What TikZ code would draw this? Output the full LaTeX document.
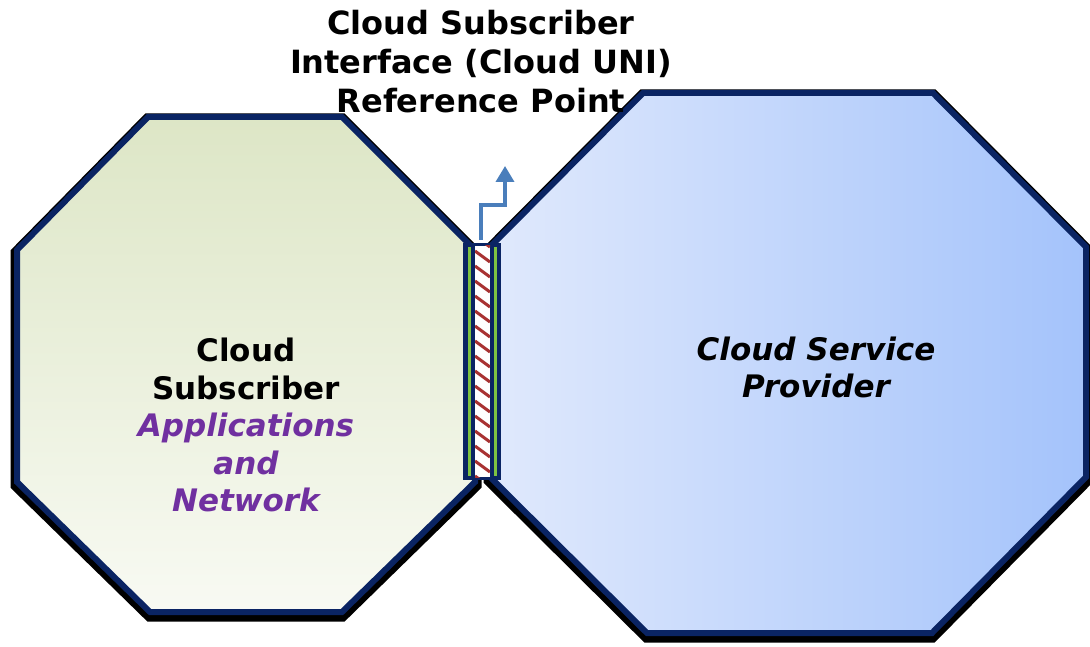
\documentclass[tikz,border=0pt]{standalone}
\usepackage{fontspec}
\setmainfont{DejaVu Sans}
\usetikzlibrary{arrows.meta}

\definecolor{octline}{HTML}{0A2463}
\definecolor{subtop}{HTML}{DDE6C6}
\definecolor{submid}{HTML}{D3DEB1}
\definecolor{subbot}{HTML}{F8FAF3}
\definecolor{provleft}{HTML}{E0E9FC}
\definecolor{provright}{HTML}{A4C3FB}
\definecolor{appcol}{HTML}{7030A0}
\definecolor{unigreen}{HTML}{7DC242}
\definecolor{unired}{HTML}{A83232}
\definecolor{arrowblue}{HTML}{4A7EBB}

\tikzset{
    oct shadow/.style={black, line width=13pt, yshift=-3pt},
    oct line/.style={octline, line width=6pt},
    title label/.style={font=\bfseries\fontsize{32}{39}\selectfont, align=center},
    body label/.style={font=\bfseries\fontsize{31}{37.5}\selectfont, align=center}
}

\begin{document}
\begin{tikzpicture}[x=1pt, y=-1pt]
    \useasboundingbox (0,0) rectangle (1090,647);
    % subscriber side
    \draw [oct shadow] (148,117) -- (342,117) -- (475,250) -- (475,482) -- (342,612) -- (150,612) -- (17,482) -- (17,250) -- cycle;
    \shade [top color=subtop, middle color=submid, bottom color=subbot] (148,117) -- (342,117) -- (475,250) -- (475,482) -- (342,612) -- (150,612) -- (17,482) -- (17,250) -- cycle;
    \draw [oct line] (148,117) -- (342,117) -- (475,250) -- (475,482) -- (342,612) -- (150,612) -- (17,482) -- (17,250) -- cycle;
    % provider side
    \draw [oct shadow] (643,93) -- (933,93) -- (1086,247) -- (1086,477) -- (932,633) -- (647,633) -- (490,477) -- (490,247) -- cycle;
    \shade [left color=provleft, right color=provright] (643,93) -- (933,93) -- (1086,247) -- (1086,477) -- (932,633) -- (647,633) -- (490,477) -- (490,247) -- cycle;
    \draw [oct line] (643,93) -- (933,93) -- (1086,247) -- (1086,477) -- (932,633) -- (647,633) -- (490,477) -- (490,247) -- cycle;
    % the UNI bar
    \node [fill=octline, inner sep=0pt, minimum width=38pt, minimum height=237pt] (uni) at (482,361.5) {};
    \draw [unigreen, line width=3pt] (469.5,247) -- (469.5,476);
    \draw [unigreen, line width=3pt] (495.5,247) -- (495.5,476);
    \fill [white] (475,246) rectangle (490,477);
    \begin{scope}
        \clip (475,246) rectangle (490,477);
        \foreach \y in {236, 251, ..., 476}
            \draw [unired, line width=3pt] (475,\y) -- (490,\y+11);
    \end{scope}
    \coordinate (tip) at (505,166);
    \draw [arrowblue, line width=3.5pt, -{Triangle[width=18pt, length=16pt]}] (uni.north) ++(-1,-3) -- ++(0,-35) -| (tip);
    % labels
    \node [title label] (title) at (481,62) {Cloud Subscriber\\Interface (Cloud UNI)\\Reference Point};
    \node [body label] (subscriber) at (246,425) {Cloud\\Subscriber\\\textcolor{appcol}{\itshape Applications}\\\textcolor{appcol}{\itshape and}\\\textcolor{appcol}{\itshape Network}};
    \node [body label, font=\bfseries\itshape\fontsize{31}{37}\selectfont] (provider) at (816,367) {Cloud Service\\Provider};
\end{tikzpicture}
\end{document}
